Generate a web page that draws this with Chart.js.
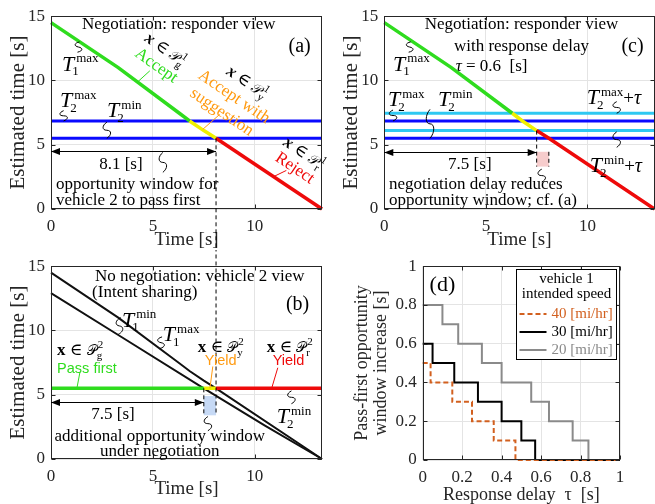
<!DOCTYPE html>
<html>
<head>
<meta charset="utf-8">
<script src="https://cdn.jsdelivr.net/npm/chart.js@4.4.0/dist/chart.umd.min.js"></script>
<style>
  body { margin: 0; background: #fff; width: 655px; height: 504px; position: relative; overflow: hidden; }
  canvas { position: absolute; }
</style>
</head>
<body>
<canvas id="ca" width="330" height="250" style="left:0;top:0"></canvas>
<canvas id="cb" width="330" height="254" style="left:0;top:250px"></canvas>
<canvas id="cc" width="325" height="250" style="left:330px;top:0"></canvas>
<canvas id="cd" width="325" height="254" style="left:330px;top:250px"></canvas>
<script>
// ---------- data ----------
const timeTicks = [0, 5, 10];
const estTicks = [0, 5, 10, 15];
const timeEnd = 13.3;
const hLineTime = [0, 13.3];

const t1Time = [0, 3.3, 6.3, 6.8, 7.5, 8.1, 13.3];
const t1Max = [14.5, 11.0, 7.45, 6.85, 6.1, 5.5, 0];
const t1MinTime = [0, 3.4, 7.5, 10.5, 13.3];
const t1Min = [12.9, 9.55, 5.5, 2.6, 0];
const t2Max = 6.85;
const t2Min = 5.5;
const t2MaxDelayed = 7.45;
const t2MinDelayed = 6.1;
const passTime = [0, 7.5, 8.1, 13.3];

// zone edges (where T1max meets the T2 lines)
const acceptEndA = 6.8, windowA = 8.1;
const acceptEndC = 6.3, windowC = 7.5;

const delayTicks = [0, 0.2, 0.4, 0.6, 0.8, 1];
const incTicks = [0, 0.2, 0.4, 0.6, 0.8, 1];
const tau40 = [0, 0.04, 0.15, 0.25, 0.36, 0.47, 1];
const inc40 = [0.5, 0.4, 0.3, 0.2, 0.1, 0, 0];
const tau30 = [0, 0.05, 0.16, 0.28, 0.40, 0.50, 0.57, 1];
const inc30 = [0.6, 0.5, 0.4, 0.3, 0.2, 0.1, 0, 0];
const tau20 = [0, 0.10, 0.18, 0.30, 0.40, 0.55, 0.64, 0.76, 0.84, 1];
const inc20 = [0.8, 0.7, 0.6, 0.5, 0.4, 0.3, 0.2, 0.1, 0, 0];
const speedLabels = ['40 [mi/hr]', '30 [mi/hr]', '20 [mi/hr]'];

// ---------- styling ----------
const SERIF = '"Liberation Serif", "DejaVu Serif", serif';
const SANS = '"Liberation Sans", "DejaVu Sans", sans-serif';
const INK = '#262626';
const GREEN = '#2fdc1e', YELLOW = '#f0f000', RED = '#ee0a0a', ORANGE = '#ff9a10';
const BLUE = '#0a0aff', CYAN = '#2ec8f2';

const pts = (xs, ys) => xs.map((x, i) => ({ x, y: ys[i] }));
const flat = (xs, y) => xs.map(x => ({ x, y }));
const zone = (g, y) => c => c.p0.parsed.x < g - 1e-6 ? GREEN : c.p0.parsed.x < y - 1e-6 ? YELLOW : RED;

function fnt(style, size, fam) { return (style ? style + ' ' : '') + size + 'px ' + (fam || SERIF); }

// rich text: plain runs plus stacked super/subscripts
function drawParts(ctx, it, px, py) {
  const base = it.size || 17, fam = it.fam || SERIF;
  const parts = it.parts.map(p => typeof p === 'string' ? { t: p } : Object.assign({}, p));
  let w = 0;
  parts.forEach(p => {
    if (p.t !== undefined) {
      ctx.font = fnt(p.s, p.size || base, p.fam || fam);
      p.w = ctx.measureText(p.t).width;
    } else {
      ctx.font = fnt('', p.size, fam);
      p.w = Math.max(p.sup ? ctx.measureText(p.sup).width + (p.supDx || 0) : 0,
                     p.sub ? ctx.measureText(p.sub).width + (p.subDx || 0) : 0);
    }
    w += p.w;
  });
  ctx.save();
  ctx.translate(px, py);
  if (it.rot) ctx.rotate(it.rot * Math.PI / 180);
  ctx.fillStyle = it.color || '#000';
  ctx.textAlign = 'left';
  ctx.textBaseline = 'alphabetic';
  let cx = it.align === 'left' ? 0 : -w / 2;
  const by = it.baseline ? 0 : base * 0.34;
  parts.forEach(p => {
    if (p.t !== undefined) {
      ctx.font = fnt(p.s, p.size || base, p.fam || fam);
      ctx.fillText(p.t, cx, by);
    } else {
      ctx.font = fnt('', p.size, fam);
      if (p.sup) ctx.fillText(p.sup, cx + (p.supDx || 0), by + p.supY);
      if (p.sub) ctx.fillText(p.sub, cx + (p.subDx || 0), by + p.subY);
    }
    cx += p.w;
  });
  ctx.restore();
}

const Tl = (sup, sub, more) => [{ t: 'T', s: 'italic', size: 22 },
  { sup, sub, size: 13, supDx: 2, subDx: -2, supY: -8.5, subY: 4.5 }].concat(more || []);
const xin = (sup, sub, bold) => [{ t: 'x', s: bold ? 'bold' : 'bold italic' }, ' \u2208 ', { t: '\uD835\uDCAB', size: 14 },
  { sup, sub, size: 11, supDx: 1, subDx: 0, supY: -7, subY: 3.5 }];

function squiggle(ctx, x1, y1, x2, y2) {
  const mx = (x1 + x2) / 2, my = (y1 + y2) / 2;
  const dx = x2 - x1, dy = y2 - y1, L = Math.hypot(dx, dy) || 1;
  const nx = -dy / L * 5, ny = dx / L * 5;
  ctx.beginPath();
  ctx.moveTo(x1, y1);
  ctx.bezierCurveTo(x1 + dx * 0.2 + nx, y1 + dy * 0.2 + ny, mx + nx, my + ny, mx, my);
  ctx.bezierCurveTo(mx - nx, my - ny, x2 - dx * 0.2 - nx, y2 - dy * 0.2 - ny, x2, y2);
  ctx.stroke();
}

function arrowHead(ctx, x, y, dir) {
  ctx.beginPath();
  ctx.moveTo(x, y);
  ctx.lineTo(x - dir * 9, y - 3.5);
  ctx.lineTo(x - dir * 9, y + 3.5);
  ctx.closePath();
  ctx.fill();
}

const NOTES = {};

const notesPlugin = {
  id: 'notes',
  afterDraw(chart) {
    const items = NOTES[chart.canvas.id] || [];
    const { ctx } = chart;
    const X = v => chart.scales.x.getPixelForValue(v);
    const Y = v => chart.scales.y.getPixelForValue(v);
    items.forEach(it => {
      ctx.save();
      ctx.strokeStyle = it.color || '#000';
      ctx.fillStyle = it.color || '#000';
      ctx.lineWidth = it.w || 1;
      if (it.k === 'text') drawParts(ctx, it, X(it.x), Y(it.y));
      else if (it.k === 'sq') squiggle(ctx, X(it.x1), Y(it.y1), X(it.x2), Y(it.y2));
      else if (it.k === 'seg') {
        if (it.dash) ctx.setLineDash(it.dash);
        ctx.beginPath(); ctx.moveTo(X(it.x1), Y(it.y1)); ctx.lineTo(X(it.x2), Y(it.y2)); ctx.stroke();
      } else if (it.k === 'arrow') {
        const a = X(it.x1), b = X(it.x2), y = Math.round(Y(it.y)) + 0.5;
        ctx.beginPath(); ctx.moveTo(a, y); ctx.lineTo(b, y); ctx.stroke();
        arrowHead(ctx, a, y, -1); arrowHead(ctx, b, y, 1);
      } else if (it.k === 'rect') {
        ctx.fillStyle = it.fill;
        ctx.fillRect(X(it.x1), Y(it.y2), X(it.x2) - X(it.x1), Y(it.y1) - Y(it.y2));
      }
      ctx.restore();
    });
  }
};

const framePlugin = {
  id: 'frame',
  afterDatasetsDraw(chart) {
    const { ctx, chartArea: a } = chart;
    const L = Math.round(a.left) + 0.5, R = Math.round(a.right) - 0.5;
    const T = Math.round(a.top) + 0.5, B = Math.round(a.bottom) - 0.5;
    ctx.save();
    ctx.strokeStyle = INK;
    ctx.lineWidth = 1;
    ctx.strokeRect(L, T, R - L, B - T);
    ctx.beginPath();
    chart.scales.x.ticks.forEach(t => {
      const p = Math.round(chart.scales.x.getPixelForValue(t.value)) + 0.5;
      ctx.moveTo(p, B); ctx.lineTo(p, B - 4);
      ctx.moveTo(p, T); ctx.lineTo(p, T + 4);
    });
    chart.scales.y.ticks.forEach(t => {
      const p = Math.round(chart.scales.y.getPixelForValue(t.value)) + 0.5;
      ctx.moveTo(L, p); ctx.lineTo(L + 4, p);
      ctx.moveTo(R, p); ctx.lineTo(R - 4, p);
    });
    ctx.stroke();
    ctx.restore();
  }
};

const speedLegend = {
  id: 'speedLegend',
  afterDraw(chart) {
    if (chart.canvas.id !== 'cd') return;
    const { ctx, chartArea: a } = chart;
    const left = Math.round(a.right) - 103.5, top = Math.round(a.top) + 3.5, w = 100, h = 90;
    ctx.save();
    ctx.fillStyle = '#fff';
    ctx.fillRect(left, top, w, h);
    ctx.strokeStyle = '#000';
    ctx.lineWidth = 1;
    ctx.strokeRect(left, top, w, h);
    ctx.fillStyle = '#000';
    ctx.font = fnt('', 15);
    ctx.textAlign = 'center';
    ctx.textBaseline = 'middle';
    ctx.fillText('vehicle 1', left + w / 2, top + 9.5);
    ctx.fillText('intended speed', left + w / 2, top + 24.5);
    chart.data.datasets.forEach((d, i) => {
      const y = top + 44.5 + i * 18;
      ctx.strokeStyle = d.borderColor;
      ctx.lineWidth = 2;
      ctx.setLineDash(d.borderDash || []);
      ctx.beginPath(); ctx.moveTo(left + 3, y); ctx.lineTo(left + 30, y); ctx.stroke();
      ctx.setLineDash([]);
      ctx.fillStyle = d.borderColor;
      ctx.textAlign = 'left';
      ctx.fillText(d.label, left + 35, y);
    });
    ctx.restore();
  }
};

function axis(min, max, ticks, title, o) {
  return {
    type: 'linear', min, max,
    afterBuildTicks: s => { s.ticks = ticks.map(v => ({ value: v })); },
    afterFit: s => { if (o.isX) s.height = o.size; else s.width = o.size; },
    grid: { color: '#e4e4e4', drawTicks: false, lineWidth: 1 },
    border: { display: false },
    ticks: { font: { family: SERIF, size: 17 }, color: INK, padding: o.tickPad, autoSkip: false, maxRotation: 0,
             callback: v => String(v) },
    title: { display: true, text: title, color: INK,
             font: { family: SERIF, size: o.titleSize, lineHeight: o.lh || 1 },
             padding: { top: o.titlePad, bottom: o.titlePad } }
  };
}

function timeChart(id, datasets, o) {
  return new Chart(document.getElementById(id), {
    type: 'scatter',
    data: { datasets },
    options: {
      responsive: false,
      animation: false,
      events: [],
      layout: { padding: { top: o.top, right: o.right, left: 0, bottom: 0 } },
      plugins: { legend: { display: false }, tooltip: { enabled: false } },
      scales: {
        x: axis(0, timeEnd, timeTicks, 'Time [s]', { isX: true, size: o.xh, tickPad: 7, titleSize: 19, titlePad: o.xtp }),
        y: axis(0, 15, estTicks, 'Estimated time [s]', { size: o.yw, tickPad: 6, titleSize: 21, titlePad: o.ytp })
      }
    },
    plugins: [framePlugin, notesPlugin]
  });
}

const line = (data, color, width, extra) => Object.assign({
  data, borderColor: color, borderWidth: width, showLine: true, pointRadius: 0, fill: false, clip: 3
}, extra || {});

// ---------- (a) ----------
NOTES.ca = [
  { k: 'seg', x1: windowA, y1: t2Min, x2: windowA, y2: -6, dash: [4, 3] },
  { k: 'arrow', x1: 0, x2: windowA, y: 4.49 },
  { k: 'text', x: 6.27, y: 14.46, parts: ['Negotiation: responder view'] },
  { k: 'text', x: 12.2, y: 12.77, parts: ['(a)'], size: 20 },
  { k: 'text', x: 0.54, y: 10.77, parts: Tl('max', '1'), align: 'left', baseline: true },
  { k: 'sq', x1: 1.3, y1: 12.2, x2: 1.4, y2: 13.0 },
  { k: 'text', x: 0.44, y: 7.92, parts: Tl('max', '2'), align: 'left', baseline: true },
  { k: 'sq', x1: 0.62, y1: 7.65, x2: 0.62, y2: t2Max },
  { k: 'text', x: 2.75, y: 7.15, parts: Tl('min', '2'), align: 'left', baseline: true },
  { k: 'sq', x1: 2.74, y1: 6.75, x2: 2.74, y2: t2Min },
  { k: 'text', x: 5.64, y: 12.46, parts: xin('1', 'g'), rot: 35 },
  { k: 'text', x: 5.2, y: 11.23, parts: ['Accept'], rot: 35, color: GREEN },
  { k: 'seg', x1: 4.26, y1: 9.9, x2: 4.85, y2: 10.75, color: GREEN },
  { k: 'text', x: 9.66, y: 9.92, parts: xin('1', 'y'), rot: 34 },
  { k: 'text', x: 9.02, y: 8.8, parts: ['Accept with'], rot: 34, color: ORANGE },
  { k: 'text', x: 8.41, y: 7.62, parts: ['suggestion'], rot: 34, color: ORANGE },
  { k: 'seg', x1: 7.45, y1: 6.2, x2: 8.28, y2: 7.36, color: ORANGE },
  { k: 'text', x: 12.45, y: 4.38, parts: xin('1', 'r'), rot: 34 },
  { k: 'text', x: 12.0, y: 3.25, parts: ['Reject'], rot: 34, color: RED },
  { k: 'seg', x1: 10.9, y1: 2.5, x2: 11.55, y2: 3.0, color: RED },
  { k: 'text', x: 3.43, y: 3.54, parts: ['8.1 [s]'] },
  { k: 'sq', x1: 5.49, y1: 4.4, x2: 5.49, y2: 2.85 },
  { k: 'text', x: 0.245, y: 1.98, parts: ['opportunity window for'], align: 'left' },
  { k: 'text', x: 0.245, y: 0.75, parts: ['vehicle 2 to pass first'], align: 'left' }
];
timeChart('ca', [
  line(pts(t1Time, t1Max), GREEN, 3.5, { segment: { borderColor: zone(acceptEndA, windowA) } }),
  line(flat(hLineTime, t2Max), BLUE, 3),
  line(flat(hLineTime, t2Min), BLUE, 3)
], { top: 13, right: 8, xh: 41, yw: 51, xtp: 0, ytp: 7.5 });

// ---------- (b) ----------
NOTES.cb = [
  { k: 'rect', x1: passTime[1], x2: passTime[2], y1: 3.4, y2: 4.9, fill: 'rgba(160,192,238,0.6)' },
  { k: 'seg', x1: passTime[2], y1: 17, x2: passTime[2], y2: 3.4, dash: [4, 3] },
  { k: 'seg', x1: passTime[1], y1: t2Min, x2: passTime[1], y2: 3.4, dash: [4, 3] },
  { k: 'arrow', x1: 0, x2: passTime[1], y: 4.4 },
  { k: 'text', x: 7.3, y: 14.33, parts: ['No negotiation: vehicle 2 view'] },
  { k: 'text', x: 4.6, y: 13.05, parts: ['(Intent sharing)'] },
  { k: 'text', x: 12.1, y: 12.1, parts: ['(b)'], size: 20 },
  { k: 'text', x: 3.48, y: 10.3, parts: Tl('min', '1'), align: 'left', baseline: true },
  { k: 'sq', x1: 3.42, y1: 11.0, x2: 3.3, y2: 9.7 },
  { k: 'text', x: 5.49, y: 9.15, parts: Tl('max', '1'), align: 'left', baseline: true },
  { k: 'sq', x1: 5.45, y1: 9.5, x2: 5.35, y2: 8.6 },
  { k: 'text', x: 0.3, y: 8.54, parts: xin('2', 'g', true), align: 'left' },
  { k: 'text', x: 0.3, y: 7.08, parts: ['Pass first'], align: 'left', fam: SANS, size: 14.5, color: GREEN },
  { k: 'seg', x1: 1.42, y1: 6.75, x2: 1.27, y2: t2Min, color: GREEN },
  { k: 'text', x: 7.2, y: 8.77, parts: xin('2', 'y', true), align: 'left' },
  { k: 'text', x: 7.55, y: 7.7, parts: ['Yield'], align: 'left', fam: SANS, size: 14.5, color: ORANGE },
  { k: 'seg', x1: 7.94, y1: 7.2, x2: 7.8, y2: t2Min, color: ORANGE },
  { k: 'text', x: 10.59, y: 8.77, parts: xin('2', 'r', true), align: 'left' },
  { k: 'text', x: 10.88, y: 7.7, parts: ['Yield'], align: 'left', fam: SANS, size: 14.5, color: RED },
  { k: 'seg', x1: 11.13, y1: 7.1, x2: 10.83, y2: t2Min, color: RED },
  { k: 'text', x: 11.08, y: 2.77, parts: Tl('min', '2'), align: 'left', baseline: true },
  { k: 'sq', x1: 11.8, y1: 5.3, x2: 11.8, y2: 4.3 },
  { k: 'text', x: 3.04, y: 3.54, parts: ['7.5 [s]'] },
  { k: 'sq', x1: 7.7, y1: 3.3, x2: 7.7, y2: 2.2 },
  { k: 'text', x: 5.34, y: 1.85, parts: ['additional opportunity window'] },
  { k: 'text', x: 5.34, y: 0.69, parts: ['under negotiation'] }
];
timeChart('cb', [
  line(flat(passTime, t2Min), GREEN, 3.5, { segment: { borderColor: zone(passTime[1], passTime[2]) } }),
  line(pts(t1Time, t1Max), '#111', 2),
  line(pts(t1MinTime, t1Min), '#111', 2)
], { top: 14, right: 8, xh: 45, yw: 51, xtp: 5, ytp: 7.8 });

// ---------- (c) ----------
NOTES.cc = [
  { k: 'rect', x1: windowC, x2: windowA, y1: 3.3, y2: 4.45, fill: 'rgba(240,170,170,0.6)' },
  { k: 'seg', x1: windowC, y1: t2MinDelayed, x2: windowC, y2: 3.3, dash: [4, 3] },
  { k: 'seg', x1: windowA, y1: 4.45, x2: windowA, y2: 3.3, dash: [4, 3] },
  { k: 'arrow', x1: 0, x2: windowC, y: 4.46 },
  { k: 'text', x: 6.75, y: 14.46, parts: ['Negotiation: responder view'] },
  { k: 'text', x: 6.75, y: 12.77, parts: ['with response delay'] },
  { k: 'text', x: 5.28, y: 11.15, parts: [{ t: '\u03C4', s: 'italic' }, ' = 0.6  [s]'] },
  { k: 'text', x: 12.22, y: 12.77, parts: ['(c)'], size: 20 },
  { k: 'text', x: 0.43, y: 10.77, parts: Tl('max', '1'), align: 'left', baseline: true },
  { k: 'sq', x1: 1.2, y1: 12.2, x2: 1.3, y2: 13.0 },
  { k: 'text', x: 0.18, y: 8.0, parts: Tl('max', '2'), align: 'left', baseline: true },
  { k: 'sq', x1: 0.43, y1: 7.7, x2: 0.43, y2: t2Max },
  { k: 'text', x: 2.64, y: 8.0, parts: Tl('min', '2'), align: 'left', baseline: true },
  { k: 'sq', x1: 2.25, y1: 7.75, x2: 2.25, y2: t2Min },
  { k: 'text', x: 9.96, y: 8.15, parts: Tl('max', '2', [{ t: '+', size: 19 }, { t: '\u03C4', s: 'italic', size: 20 }]), align: 'left', baseline: true },
  { k: 'sq', x1: 11.44, y1: 8.35, x2: 11.44, y2: t2MaxDelayed },
  { k: 'text', x: 10.11, y: 2.85, parts: Tl('min', '2', [{ t: '+', size: 19 }, { t: '\u03C4', s: 'italic', size: 20 }]), align: 'left', baseline: true },
  { k: 'sq', x1: 11.44, y1: 6.0, x2: 11.44, y2: 4.8 },
  { k: 'text', x: 4.21, y: 3.54, parts: ['7.5 [s]'] },
  { k: 'sq', x1: 7.75, y1: 3.1, x2: 7.75, y2: 2.1 },
  { k: 'text', x: 0.23, y: 1.98, parts: ['negotiation delay reduces'], align: 'left' },
  { k: 'text', x: 0.23, y: 0.75, parts: ['opportunity window; cf. (a)'], align: 'left' }
];
timeChart('cc', [
  line(pts(t1Time, t1Max), GREEN, 3.5, { segment: { borderColor: zone(acceptEndC, windowC) } }),
  line(flat(hLineTime, t2MaxDelayed), CYAN, 3),
  line(flat(hLineTime, t2Max), BLUE, 3),
  line(flat(hLineTime, t2MinDelayed), CYAN, 3),
  line(flat(hLineTime, t2Min), BLUE, 3)
], { top: 13, right: 0.5, xh: 41, yw: 54.3, xtp: 0, ytp: 11.2 });

// ---------- (d) ----------
NOTES.cd = [
  { k: 'text', x: 0.1, y: 0.91, parts: ['(d)'], size: 22 }
];
// Chart.js 'before' = hold the value, then jump at the next point
new Chart(document.getElementById('cd'), {
  type: 'scatter',
  data: {
    datasets: [
      line(pts(tau40, inc40), '#d2601f', 2, { label: speedLabels[0], stepped: 'before', borderDash: [5, 3] }),
      line(pts(tau30, inc30), '#000000', 2, { label: speedLabels[1], stepped: 'before' }),
      line(pts(tau20, inc20), '#8a8a8a', 2, { label: speedLabels[2], stepped: 'before' })
    ]
  },
  options: {
    responsive: false,
    animation: false,
    events: [],
    layout: { padding: { top: 14, right: 35, left: 0, bottom: 0 } },
    plugins: { legend: { display: false }, tooltip: { enabled: false } },
    scales: {
      x: axis(0, 1, delayTicks, 'Response delay  \u03C4  [s]', { isX: true, size: 44, tickPad: 7, titleSize: 18, titlePad: 0 }),
      y: axis(0, 1, incTicks, ['Pass-first opportunity', 'window increase [s]'], { size: 92.7, tickPad: 6, titleSize: 18, lh: 1.05, titlePad: 23 })
    }
  },
  plugins: [framePlugin, notesPlugin, speedLegend]
});
</script>
</body>
</html>
